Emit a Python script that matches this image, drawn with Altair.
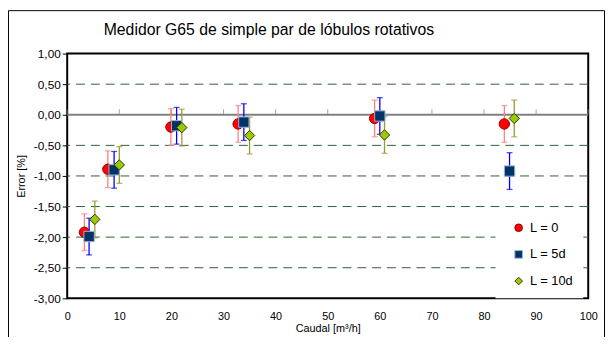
import altair as alt
import pandas as pd

title_text = "Medidor G65 de simple par de lóbulos rotativos"
series = ["L = 0", "L = 5d", "L = 10d"]
x_l0 = [3.3, 7.8, 19.9, 32.8, 59.0, 83.9]
y_l0 = [-1.92, -0.89, -0.20, -0.15, -0.06, -0.15]
e_l0 = [0.30, 0.30, 0.30, 0.30, 0.30, 0.30]
x_l5 = [4.2, 9.0, 21.0, 33.9, 60.0, 84.9]
y_l5 = [-1.99, -0.90, -0.18, -0.12, -0.02, -0.92]
e_l5 = [0.30, 0.30, 0.30, 0.30, 0.30, 0.30]
x_l10 = [5.3, 10.0, 22.0, 35.0, 60.9, 85.8]
y_l10 = [-1.71, -0.82, -0.21, -0.34, -0.33, -0.06]
e_l10 = [0.30, 0.30, 0.30, 0.30, 0.30, 0.30]

grid_values = [0.5, -0.5, -1.0, -1.5, -2.0, -2.5]
y_ticks = [1.0, 0.5, 0.0, -0.5, -1.0, -1.5, -2.0, -2.5, -3.0]
x_ticks = [0, 10, 20, 30, 40, 50, 60, 70, 80, 90, 100]

fill_colors = ["#FF0000", "#003366", "#99CC00"]
stroke_colors = ["#990000", "#9DB4D8", "#333300"]
shapes = ["circle", "square", "diamond"]
bar_colors = ["#FF7F7F", "#0000FF", "#999933"]

rows = []
for name, xs, ys, es in [(series[0], x_l0, y_l0, e_l0),
                         (series[1], x_l5, y_l5, e_l5),
                         (series[2], x_l10, y_l10, e_l10)]:
    for x, y, e in zip(xs, ys, es):
        rows.append({"serie": name, "caudal": x, "error": y,
                     "lo": y - e, "hi": y + e})
df = pd.DataFrame(rows)

xs_scale = alt.Scale(domain=[0, 100], nice=False)
ys_scale = alt.Scale(domain=[-3, 1], nice=False, zero=False)

x_axis = alt.Axis(values=x_ticks, title="Caudal [m³/h]", grid=False,
                  domain=False, ticks=True, tickSize=0, labelPadding=12,
                  titlePadding=2, labelFontSize=11, titleFontSize=11,
                  titleFontWeight="normal", labelColor="black",
                  titleColor="black", labelFlush=False, labelOverlap=False)
y_axis = alt.Axis(values=y_ticks, title="Error [%]", grid=False,
                  domain=False, tickSize=5, tickColor="black",
                  labelPadding=2, titlePadding=7, labelFontSize=12,
                  titleFontSize=11, titleFontWeight="normal",
                  labelColor="black", titleColor="black",
                  labelFlush=False, labelOverlap=False,
                  labelExpr="(datum.value < 0 ? '-' : '') + replace(format(abs(datum.value), '.2f'), '.', ',')")


def X(field="caudal"):
    return alt.X(f"{field}:Q", scale=xs_scale, axis=x_axis)


def Y(field="error"):
    return alt.Y(f"{field}:Q", scale=ys_scale, axis=y_axis)


base = alt.Chart(df)

grid = alt.Chart(pd.DataFrame({"error": grid_values})).mark_rule(
    color="#2F5F2F", strokeWidth=1, strokeDash=[9, 6]
).encode(y=Y())

zero_line = alt.Chart(pd.DataFrame({"error": [0.0]})).mark_rule(
    color="#808080", strokeWidth=2
).encode(y=Y())

zero_ticks = alt.Chart(pd.DataFrame({"caudal": x_ticks, "error": [0.0] * len(x_ticks)})).mark_tick(
    orient="vertical", size=5, thickness=1, color="#808080", yOffset=-3
).encode(x=X(), y=Y())

bar_scale = alt.Scale(domain=series, range=bar_colors)
bars = base.mark_rule(strokeWidth=1.3).encode(
    x=X(), y=Y("lo"), y2="hi:Q",
    color=alt.Color("serie:N", scale=bar_scale, legend=None),
)
caps_lo = base.mark_tick(orient="horizontal", size=6, thickness=1.3).encode(
    x=X(), y=Y("lo"),
    color=alt.Color("serie:N", scale=bar_scale, legend=None),
)
caps_hi = base.mark_tick(orient="horizontal", size=6, thickness=1.3).encode(
    x=X(), y=Y("hi"),
    color=alt.Color("serie:N", scale=bar_scale, legend=None),
)

legend = alt.Legend(title=None, orient="none", legendX=434, legendY=160,
                    labelFontSize=13, labelColor="black", symbolSize=60,
                    rowPadding=13, padding=10, fillColor="white",
                    symbolOffset=7, labelOffset=5, symbolStrokeWidth=1)
points = base.mark_point(opacity=1, strokeWidth=1, size=110).encode(
    x=X(), y=Y(),
    fill=alt.Fill("serie:N", scale=alt.Scale(domain=series, range=fill_colors), legend=legend),
    stroke=alt.Stroke("serie:N", scale=alt.Scale(domain=series, range=stroke_colors), legend=legend),
    shape=alt.Shape("serie:N", scale=alt.Scale(domain=series, range=shapes), legend=legend),
)

deco = pd.DataFrame({"t": [title_text]})
frame = alt.Chart(deco).mark_rect(
    fill=None, stroke="black", strokeWidth=1, clip=False
).encode(x=alt.value(-59.5), x2=alt.value(544.5), y=alt.value(-43.5), y2=alt.value(320))

title = alt.Chart(deco).mark_text(
    align="left", baseline="alphabetic", fontSize=16, color="black"
).encode(x=alt.value(37), y=alt.value(-19), text="t:N")

chart = alt.layer(frame, title, grid, zero_line, zero_ticks, bars, caps_lo, caps_hi, points).resolve_scale(
    color="independent"
).properties(
    width=528, height=248,
    autosize=alt.AutoSizeParams(type="none"),
    padding={"left": 60, "top": 44, "right": 17, "bottom": 37},
).configure(font="Liberation Sans").configure_view(
    stroke="black", strokeWidth=2
)

chart.save("out.html", embed_options={"renderer": "svg", "actions": False})
